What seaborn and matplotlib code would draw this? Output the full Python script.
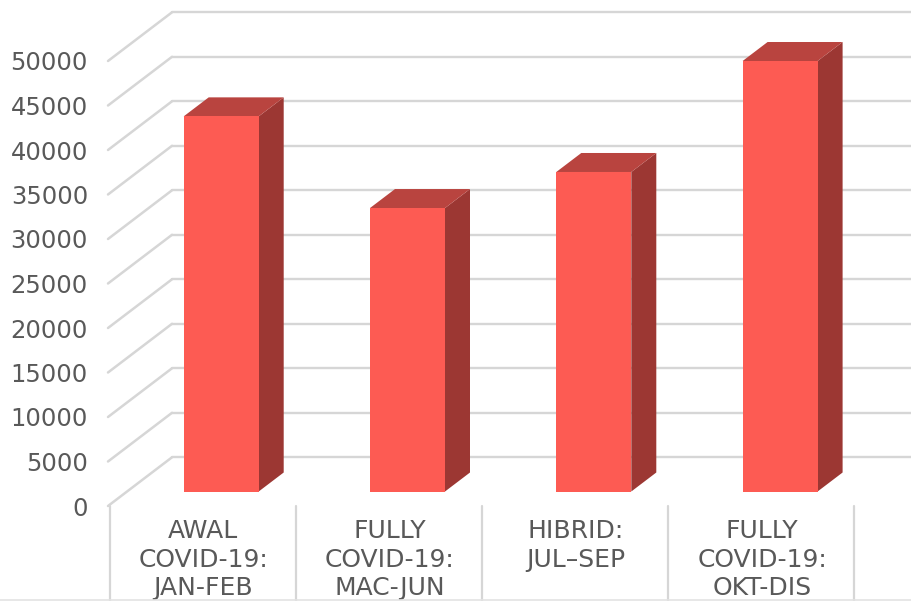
import numpy as np
import matplotlib
matplotlib.use("Agg")
import matplotlib.pyplot as plt
import matplotlib.transforms as mtrans
from matplotlib.patches import Polygon
import seaborn as sns

periods = ["AWAL\nCOVID-19:\nJAN-FEB", "FULLY\nCOVID-19:\nMAC-JUN", "HIBRID:\nJUL\u2013SEP", "FULLY\nCOVID-19:\nOKT-DIS"]
values = [42150, 31850, 35900, 48370]
y_ticks = [0, 5000, 10000, 15000, 20000, 25000, 30000, 35000, 40000, 45000, 50000]

FRONT = "#FD5B53"
SIDE = "#9C3733"
TOP = "#B9443F"
GRID = "#D6D6D6"
TEXT = "#595959"

W, H = 911, 601
PX_X = 186.3          # pixels per category
PX_Y = 0.0089         # pixels per value unit
AX_L, AX_B = 108, 506  # axes left and bottom, in pixels from top-left
X0 = 221.2            # pixel of the first bar's centre

sns.set_theme(style="white")
plt.rcParams["font.family"] = ["DejaVu Sans"]

fig = plt.figure(figsize=(W / 100, H / 100), dpi=100)
ax = fig.add_axes([AX_L / W, (H - AX_B) / H, (W - AX_L) / W, AX_B / H])

sns.barplot(x=periods, y=values, color=FRONT, saturation=1, width=75 / PX_X,
            ax=ax, zorder=5, linewidth=0)

ax.set_xlim((AX_L - X0) / PX_X, (W - X0) / PX_X)
ax.set_ylim(-14.5 / PX_Y, 491.5 / PX_Y)

# depth offsets
bar_dx, bar_dy = 25 / PX_X, 19 / PX_Y
back_x = (172 - X0) / PX_X
front_x = (AX_L - X0) / PX_X
back_dy = 34.2 / PX_Y
front_dy = -14.5 / PX_Y

# walls and floor gridlines
for v in y_ticks:
    ax.plot([front_x, back_x], [v + front_dy, v + back_dy], color=GRID, lw=1.8, zorder=1,
            clip_on=False, solid_capstyle="round")
    ax.plot([back_x, (W - X0) / PX_X], [v + back_dy, v + back_dy], color=GRID, lw=1.7, zorder=1)

# 3D faces of bars
half = 75 / PX_X / 2
for i, v in enumerate(values):
    xl, xr = i - half, i + half
    ax.add_patch(Polygon([(xr, 0), (xr + bar_dx, bar_dy), (xr + bar_dx, v + bar_dy), (xr, v)],
                         closed=True, fc=SIDE, ec="none", zorder=4))
    ax.add_patch(Polygon([(xl, v), (xr, v), (xr + bar_dx, v + bar_dy), (xl + bar_dx, v + bar_dy)],
                         closed=True, fc=TOP, ec="none", zorder=4))

# category separators under the floor
btrans = mtrans.blended_transform_factory(ax.transData, ax.transAxes)
for i in range(5):
    xs = (110 + i * 185.9 - X0) / PX_X
    ax.plot([xs, xs], [0, -95 / AX_B], transform=btrans, color=GRID, lw=1.6, clip_on=False, zorder=1)
fig.add_artist(plt.Line2D([0, 1], [1 / H, 1 / H], color="#E3E3E3", lw=1.2))

# ticks
for s in ax.spines.values():
    s.set_visible(False)
ax.set_xlabel("")
ax.set_ylabel("")
ax.set_yticks(y_ticks)
ax.set_yticklabels([str(v) for v in y_ticks])
ax.tick_params(axis="y", length=0, pad=14.4, labelsize=17.5, labelcolor=TEXT)
ax.tick_params(axis="x", length=0, pad=9.5, labelsize=18.0, labelcolor=TEXT)
ax.grid(False)

ytrans = mtrans.ScaledTranslation(0, -14.5 / 100, fig.dpi_scale_trans)
for lab in ax.get_yticklabels():
    lab.set_transform(lab.get_transform() + ytrans)
xtrans = mtrans.ScaledTranslation(-18 / 100, 0, fig.dpi_scale_trans)
for lab in ax.get_xticklabels():
    lab.set_transform(lab.get_transform() + xtrans)
    lab.set_linespacing(1.24)
    lab.set_ha("center")

fig.savefig("out.png", dpi=100)
